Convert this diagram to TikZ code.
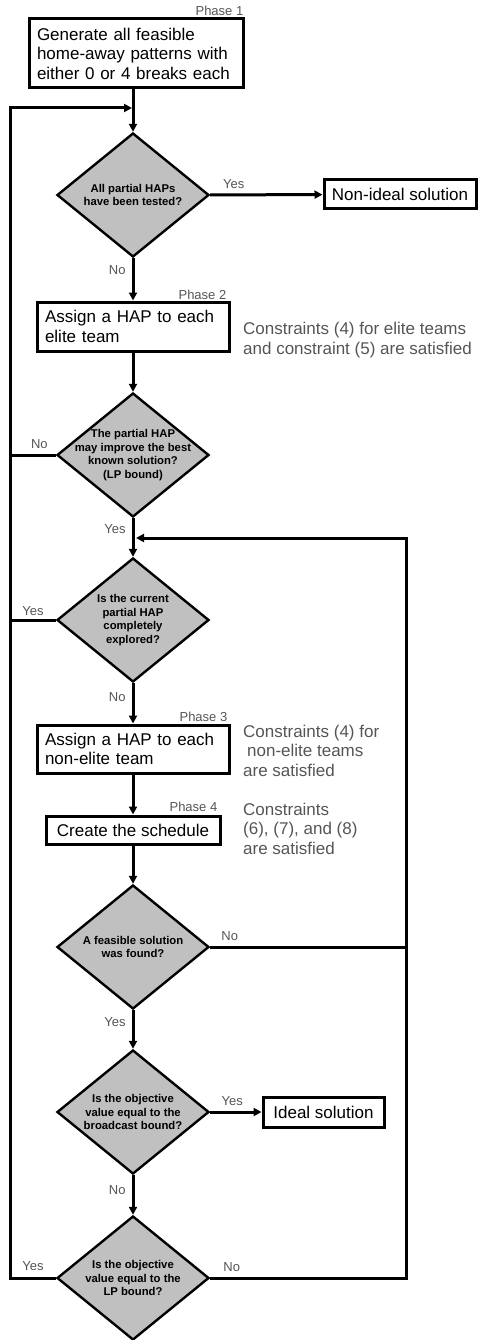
\documentclass[tikz,border=0pt]{standalone}
\usepackage{fontspec}
\setmainfont{Liberation Sans}
\usepackage{xcolor}
\usepackage{tikz}
\usetikzlibrary{shapes,arrows.meta,positioning,calc,shapes.geometric}
\definecolor{mygray}{RGB}{85,85,85}
\definecolor{myfill}{RGB}{192,192,192}

\begin{document}
\begin{tikzpicture}[x=1pt, y=-1pt,
  flow/.style={line width=3pt, -{Triangle[length=8pt,width=8pt]}},
  link/.style={line width=3pt},
  box/.style={draw, line width=3pt, fill=white, inner xsep=8pt, inner ysep=2pt,
              font=\fontsize{17}{19.5}\selectfont},
  decision/.style={diamond, draw, line width=2.4pt, fill=myfill,
                   minimum width=152pt, minimum height=124pt, inner sep=0pt},
  qtext/.style={font=\fontsize{11.3}{13.4}\selectfont\bfseries, align=center, inner sep=0pt},
  lbl/.style={font=\fontsize{13}{15}\selectfont, text=mygray, inner sep=2pt},
  note/.style={font=\fontsize{17}{19.5}\selectfont, text=mygray, align=left,
               anchor=base west, inner sep=0pt}]
  \useasboundingbox (0,0) rectangle (477,1340);

  % Phase 1
  \node[box, text width=198pt, minimum height=69pt, align=left] (gen) at (136,53.5)
    {Generate all feasible\\home-away patterns with\\either 0 or 4 breaks each};
  \node[lbl, anchor=base east] (ph1) at ($(gen.north east)+(1,-2)$) {Phase 1};
  \node[decision, label={[qtext]center:{All partial HAPs\\have been tested?}}] (tested) at (133,195) {};
  \node[box, inner xsep=5pt, minimum width=152pt, minimum height=29pt] (nonideal) at (400,194.5) {Non-ideal solution};

  % Phase 2
  \node[box, text width=176pt, minimum height=49pt, align=left] (elite) at (133,326.5)
    {Assign a HAP to each\\elite team};
  \node[lbl, anchor=base east] (ph2) at ($(elite.north east)+(-2,-1)$) {Phase 2};
  \node[note] (elitenote) at (243,354) {Constraints (4) for elite teams\\and constraint (5) are satisfied};
  \node[decision, label={[qtext]center:{The partial HAP\\may improve the best\\known solution?\\(LP bound)}}] (improve) at (133,455) {};
  \node[decision, label={[qtext]center:{Is the current\\partial HAP\\completely\\explored?}}] (explored) at (133,620) {};

  % Phase 3
  \node[box, text width=176pt, minimum height=48pt, align=left] (nonelite) at (133,749)
    {Assign a HAP to each\\non-elite team};
  \node[lbl, anchor=base east] (ph3) at ($(nonelite.north east)+(-1,-2)$) {Phase 3};
  \node[note] (nonelitenote) at (243,776) {Constraints (4) for\\\hspace*{4pt}non-elite teams\\are satisfied};

  % Phase 4
  \node[box, minimum width=174pt, minimum height=28pt] (schedule) at (133,830) {Create the schedule};
  \node[lbl, anchor=base east] (ph4) at ($(schedule.north east)+(-2,-3)$) {Phase 4};
  \node[note] (schednote) at (243,854) {Constraints\\(6), (7), and (8)\\are satisfied};
  \node[decision, label={[qtext]center:{A feasible solution\\was found?}}] (feasible) at (133,947) {};
  \node[decision, label={[qtext]center:{Is the objective\\value equal to the\\broadcast bound?}}] (broadcast) at (133,1112) {};
  \node[box, minimum width=121pt, minimum height=30pt] (ideal) at (323.5,1112) {Ideal solution};
  \node[decision, label={[qtext]center:{Is the objective\\value equal to the\\LP bound?}}] (lpbound) at (133,1278) {};

  % loop corners
  \coordinate (backL) at (10,108);
  \coordinate (backR) at (406,538);

  % main flow
  \draw[flow] (gen.south -| tested) -- (tested.north);
  \draw[flow] (tested) -- node[lbl, above=3pt, pos=0.21] {Yes} (nonideal);
  \draw[flow] (tested) -- node[lbl, left=4pt, pos=0.29] {No} (elite);
  \draw[flow] (elite) -- (improve);
  \draw[link] (improve.west) -- node[lbl, above=3pt, pos=0.36] {No} (improve.west -| backL);
  \draw[flow] (improve) -- node[lbl, left=4pt, pos=0.29] {Yes} (explored);
  \draw[link] (explored.west) -- node[lbl, above=1pt, pos=0.5] {Yes} (explored.west -| backL);
  \draw[flow] (explored) -- node[lbl, left=4pt, pos=0.35] {No} (nonelite);
  \draw[flow] (nonelite) -- (schedule);
  \draw[flow] (schedule) -- (feasible);
  \draw[link] (feasible.east) -- node[lbl, above=3pt, pos=0.1] {No} (feasible.east -| backR);
  \draw[flow] (feasible) -- node[lbl, left=4pt, pos=0.3] {Yes} (broadcast);
  \draw[flow] (broadcast) -- node[lbl, above=3pt, pos=0.43] {Yes} (ideal);
  \draw[flow] (broadcast) -- node[lbl, left=4pt, pos=0.38] {No} (lpbound);

  % back to the top
  \draw[flow, shorten >=1pt] (lpbound.west) -- node[lbl, above=4pt, pos=0.5] {Yes} (lpbound.west -| backL)
    -- (backL) -- (backL -| tested);
  \draw[flow, shorten >=3pt] (lpbound.east) -- node[lbl, above=3pt, pos=0.11] {No} (lpbound.east -| backR)
    -- (backR) -- (backR -| tested);
\end{tikzpicture}
\end{document}
